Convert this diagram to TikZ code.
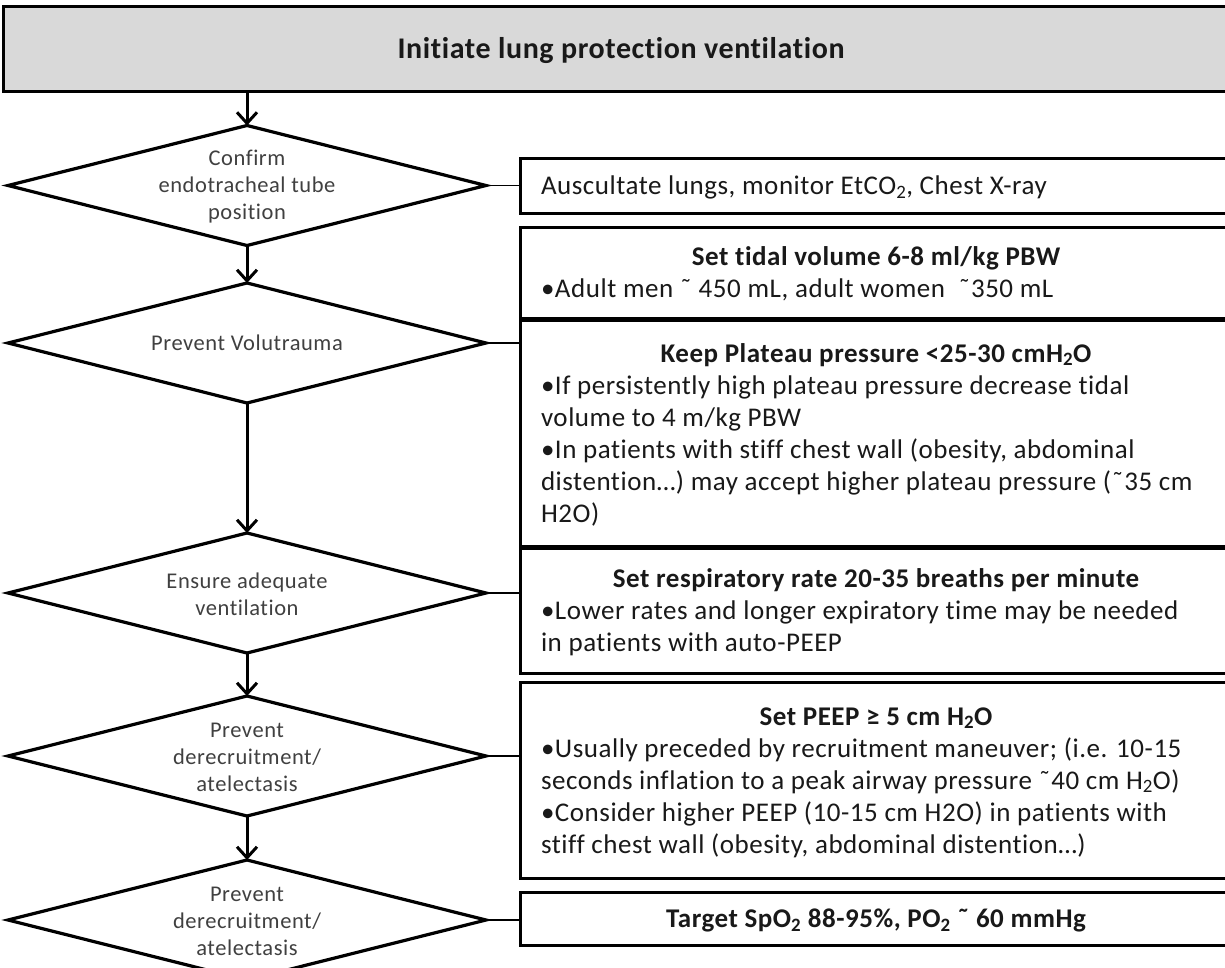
\documentclass[tikz,border=0pt]{standalone}
\usepackage{fontspec}
\setmainfont{Carlito}[Ligatures=NoCommon]
\newfontfamily\bodyfont{Carlito}[LetterSpace=2,Ligatures=NoCommon]
\newfontfamily\diafont{Carlito}[LetterSpace=2.5,Ligatures=NoCommon]
\newfontfamily\titlefont{Carlito}[LetterSpace=2,Ligatures=NoCommon]
\usetikzlibrary{arrows.meta,shapes.geometric}
\newcommand\sub[1]{\textsubscript{#1}}
\begin{document}
\begin{tikzpicture}[x=1pt,y=-1pt,
  every node/.style={inner sep=0pt, outer sep=0pt},
  topbox/.style={draw, line width=3pt, fill=black!15, minimum width=1236pt, minimum height=85pt},
  dia/.style={diamond, draw, line width=3.2pt, minimum width=478pt, minimum height=120pt, fill=white},
  box/.style={draw, line width=3pt, fill=white, minimum width=712pt},
  arr/.style={line width=3pt, -{Straight Barb[length=11pt,width=20pt]}},
  conn/.style={line width=1.5pt},
  bt/.style={font=\bodyfont\fontsize{27}{32}\selectfont, text=black!90, anchor=base west},
  bh/.style={font=\bodyfont\fontsize{27}{32}\selectfont\bfseries, text=black!90, anchor=base},
  dt/.style={font=\diafont\fontsize{22.5}{27}\selectfont, text=black!75, anchor=center, align=center}
]
\useasboundingbox (0,0) rectangle (1225,967);
\clip (0,0) rectangle (1225,967);
\fill[white] (0,0) rectangle (1225,967);

% top box
\node[topbox] (top) at (621,48.5) {};
\node[font=\titlefont\fontsize{30}{34}\selectfont\bfseries, text=black!90, anchor=base] (toptxt) at (621,58) {Initiate lung protection ventilation};

% diamonds
\node[dia] (d1) at (247,185.5) {};
\node[dia] (d2) at (247,343) {};
\node[dia] (d3) at (247,593) {};
\node[dia] (d4) at (247,756) {};
\node[dia] (d5) at (247,920) {};
\node[dt] (d1t) at (247,187) {Confirm\\endotracheal tube\\position};
\node[dt] (d2t) at (247,343) {Prevent Volutrauma};
\node[dt] (d3t) at (247,594) {Ensure adequate\\ventilation};
\node[dt] (d4t) at (247,757) {Prevent\\derecruitment/\\atelectasis};
\node[dt] (d5t) at (247,921) {Prevent\\derecruitment/\\atelectasis};

% boxes
\node[box, minimum height=55pt] (b1) at (876,185.5) {};
\node[box, minimum height=91pt] (b2) at (876,272.5) {};
\node[box, minimum height=226pt] (b3) at (876,433) {};
\node[box, minimum height=125pt] (b4) at (876,610.5) {};
\node[box, minimum height=196pt] (b5) at (876,780) {};
\node[box, minimum height=53pt] (b6) at (876,918.5) {};

% arrows
\draw[arr] (d1.north |- top.south) -- (d1.north);
\draw[arr] (d1.south) -- (d2.north);
\draw[arr] (d2.south) -- (d3.north);
\draw[arr] (d3.south) -- (d4.north);
\draw[arr] (d4.south) -- (d5.north);

% connectors
\draw[conn] (d1.east) -- (d1.east -| b1.west);
\draw[conn] (d2.east) -- (d2.east -| b3.west);
\draw[conn] (d3.east) -- (d3.east -| b4.west);
\draw[conn] (d4.east) -- (d4.east -| b5.west);
\draw[conn] (d5.east) -- (d5.east -| b6.west);

% box texts
\node[bt] (b1a) at (541,194.5) {Auscultate lungs, monitor EtCO\sub{2}, Chest X-ray};

\node[bh] (b2h) at (876,265.5) {Set tidal volume 6-8 ml/kg PBW};
\node[bt] (b2a) at (541,297.5) {•Adult men ˜ 450 mL, adult women \ ˜350 mL};

\node[bh] (b3h) at (876,362) {Keep Plateau pressure <25-30 cmH\sub{2}O};
\node[bt] (b3a) at (541,394) {•If persistently high plateau pressure decrease tidal};
\node[bt] (b3b) at (541,426) {volume to 4 m/kg PBW};
\node[bt] (b3c) at (541,458) {•In patients with stiff chest wall (obesity, abdominal};
\node[bt] (b3d) at (541,490) {distention…) may accept higher plateau pressure (˜35 cm};
\node[bt] (b3e) at (541,522) {H2O)};

\node[bh] (b4h) at (876,587.5) {Set respiratory rate 20-35 breaths per minute};
\node[bt] (b4a) at (541,619.5) {•Lower rates and longer expiratory time may be needed};
\node[bt] (b4b) at (541,651.5) {in patients with auto-PEEP};

\node[bh] (b5h) at (876,725) {Set PEEP ≥ 5 cm H\sub{2}O};
\node[bt] (b5a) at (541,757) {•Usually preceded by recruitment maneuver; (i.e. 10-15};
\node[bt] (b5b) at (541,789) {seconds inflation to a peak airway pressure ˜40 cm H\sub{2}O)};
\node[bt] (b5c) at (541,821) {•Consider higher PEEP (10-15 cm H2O) in patients with};
\node[bt] (b5d) at (541,853) {stiff chest wall (obesity, abdominal distention…)};

\node[bh] (b6h) at (876,927.5) {Target SpO\sub{2} 88-95\%, PO\sub{2} ˜ 60 mmHg};
\end{tikzpicture}
\end{document}
